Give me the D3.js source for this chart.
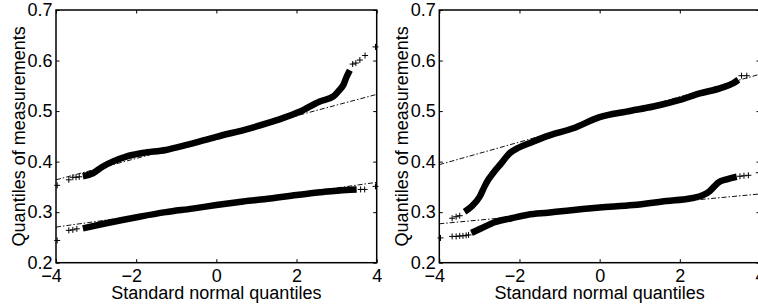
<!DOCTYPE html>
<html>
<head>
<meta charset="utf-8">
<script src="https://cdn.jsdelivr.net/npm/d3@7"></script>
<style>
  body { margin: 0; background: #fff; }
  text { font-family: "Liberation Sans", Arial, sans-serif; font-size: 18px; fill: #000; }
</style>
</head>
<body>
<script>
// tick values
var xTicks = [-4, -2, 0, 2, 4];
var yTicks = [0.2, 0.3, 0.4, 0.5, 0.6, 0.7];

// left panel: dense part of each qq curve, sparse tail points, fitted line ends
var leftUpperBody = [[-3.33, 0.371], [-3.08, 0.377], [-2.84, 0.390], [-2.59, 0.400], [-2.25, 0.410],
  [-1.84, 0.417], [-1.26, 0.423], [-0.74, 0.433], [0.0, 0.449], [0.84, 0.466], [1.51, 0.482],
  [2.09, 0.499], [2.58, 0.519], [2.92, 0.529], [3.04, 0.539], [3.17, 0.552], [3.25, 0.568], [3.33, 0.581]];
var leftUpperTail = [[-3.97, 0.353], [-3.68, 0.364], [-3.58, 0.369], [-3.50, 0.369], [-3.42, 0.370],
  [3.40, 0.593], [3.48, 0.595], [3.58, 0.601], [3.71, 0.610], [3.97, 0.627]];
var leftUpperFit = [[-4, 0.364], [4, 0.533]];

var leftLowerBody = [[-3.33, 0.268], [-2.75, 0.278], [-1.92, 0.291], [-1.26, 0.300], [-0.6, 0.307],
  [0.0, 0.314], [0.67, 0.321], [1.34, 0.327], [2.0, 0.334], [2.67, 0.340], [3.25, 0.344], [3.5, 0.345]];
var leftLowerTail = [[-3.97, 0.244], [-3.68, 0.264], [-3.58, 0.265], [-3.48, 0.267],
  [3.6, 0.345], [3.7, 0.345], [3.97, 0.351]];
var leftLowerFit = [[-4, 0.2705], [4, 0.359]];

// right panel
var rightUpperBody = [[-3.37, 0.301], [-3.20, 0.311], [-2.99, 0.331], [-2.87, 0.351], [-2.78, 0.364],
  [-2.66, 0.377], [-2.45, 0.397], [-2.24, 0.417], [-2.04, 0.427], [-1.71, 0.438], [-1.29, 0.451],
  [-0.66, 0.466], [0.0, 0.488], [0.67, 0.499], [1.34, 0.509], [2.0, 0.522], [2.5, 0.535],
  [3.0, 0.545], [3.33, 0.555], [3.46, 0.562]];
var rightUpperTail = [[-3.68, 0.288], [-3.58, 0.291], [-3.49, 0.293], [3.54, 0.570], [3.67, 0.570]];
var rightUpperFit = [[-4, 0.394], [4, 0.573]];

var rightLowerBody = [[-3.20, 0.259], [-2.95, 0.268], [-2.62, 0.280], [-2.20, 0.288], [-1.79, 0.295],
  [-1.29, 0.299], [-0.82, 0.303], [0.0, 0.309], [0.84, 0.314], [1.67, 0.322], [2.25, 0.327],
  [2.59, 0.334], [2.75, 0.342], [2.85, 0.350], [2.95, 0.358], [3.17, 0.365], [3.42, 0.370]];
var rightLowerTail = [[-3.97, 0.249], [-3.68, 0.252], [-3.58, 0.252], [-3.49, 0.253], [-3.41, 0.253],
  [-3.33, 0.254], [-3.27, 0.255], [3.5, 0.371], [3.6, 0.372], [3.71, 0.373], [3.97, 0.378]];
var rightLowerFit = [[-4, 0.277], [4, 0.336]];

var width = 758, height = 307;
var plotW = 320.7, plotTop = 10, plotBottom = 262.7;

var panels = [
  { left: 56, series: [
    { body: leftUpperBody, tail: leftUpperTail, fit: leftUpperFit },
    { body: leftLowerBody, tail: leftLowerTail, fit: leftLowerFit }] },
  { left: 439.3, series: [
    { body: rightUpperBody, tail: rightUpperTail, fit: rightUpperFit },
    { body: rightLowerBody, tail: rightLowerTail, fit: rightLowerFit }] }
];

var svg = d3.select("body")
  .append("svg")
  .attr("width", width)
  .attr("height", height);

function xFormat(d) { return d < 0 ? "\u2212" + Math.abs(d) : String(d); }

panels.forEach(function (p, i) {
  var x = d3.scaleLinear().domain([-4, 4]).range([p.left, p.left + plotW]);
  var y = d3.scaleLinear().domain([0.2, 0.7]).range([plotBottom, plotTop]);

  var g = svg.append("g").attr("class", "panel");

  var clipId = "clip" + i;
  g.append("clipPath").attr("id", clipId)
    .append("rect")
    .attr("x", p.left - 4).attr("y", plotTop - 4)
    .attr("width", plotW + 8).attr("height", plotBottom - plotTop + 8);

  var line = d3.line()
    .x(function (d) { return x(d[0]); })
    .y(function (d) { return y(d[1]); });
  var band = d3.line()
    .x(function (d) { return x(d[0]); })
    .y(function (d) { return y(d[1]); })
    .curve(d3.curveMonotoneX);

  var marks = g.append("g").attr("clip-path", "url(#" + clipId + ")");

  p.series.forEach(function (s) {
    // fitted reference line, dash-dot
    marks.append("path")
      .attr("d", line(s.fit))
      .attr("fill", "none")
      .attr("stroke", "#111")
      .attr("stroke-width", 1)
      .attr("stroke-dasharray", "5,2,1.5,2");

    // dense band of + markers
    marks.append("path")
      .attr("d", band(s.body))
      .attr("fill", "none")
      .attr("stroke", "#000")
      .attr("stroke-width", 6.5);

    // sparse + markers in the tails
    marks.selectAll(null)
      .data(s.tail)
      .enter().append("path")
      .attr("transform", function (d) { return "translate(" + x(d[0]) + "," + y(d[1]) + ")"; })
      .attr("d", "M-3,0H3M0,-3V3")
      .attr("stroke", "#000")
      .attr("stroke-width", 1);
  });

  // axes with inward ticks
  var bottom = g.append("g")
    .attr("transform", "translate(0," + plotBottom + ")")
    .call(d3.axisBottom(x).tickValues(xTicks).tickSize(-3.5).tickPadding(6.5).tickFormat(xFormat));
  bottom.selectAll("text")
    .attr("dx", function (d) { return d < 0 ? -5 : 0; });

  g.append("g")
    .attr("transform", "translate(0," + plotTop + ")")
    .call(d3.axisTop(x).tickValues(xTicks).tickSize(-3.5).tickFormat(""));

  g.append("g")
    .attr("transform", "translate(" + p.left + ",0)")
    .call(d3.axisLeft(y).tickValues(yTicks).tickSize(-3.5).tickPadding(3.5).tickFormat(d3.format(".1f")));

  g.append("g")
    .attr("transform", "translate(" + (p.left + plotW) + ",0)")
    .call(d3.axisRight(y).tickValues(yTicks).tickSize(-3.5).tickFormat(""));

  g.selectAll(".domain").remove();
  g.selectAll(".tick line").attr("stroke", "#000");
  g.selectAll(".tick text")
    .attr("font-family", null)
    .attr("font-size", null);

  // box
  g.append("rect")
    .attr("x", p.left).attr("y", plotTop)
    .attr("width", plotW).attr("height", plotBottom - plotTop)
    .attr("fill", "none")
    .attr("stroke", "#000")
    .attr("stroke-width", 1.5);

  // axis titles
  g.append("text")
    .attr("x", p.left + plotW / 2)
    .attr("y", 299)
    .attr("text-anchor", "middle")
    .text("Standard normal quantiles");

  g.append("text")
    .attr("transform", "translate(" + (p.left - 31.5) + "," + ((plotTop + plotBottom) / 2) + ") rotate(-90)")
    .attr("text-anchor", "middle")
    .text("Quantiles of measurements");
});
</script>
</body>
</html>
